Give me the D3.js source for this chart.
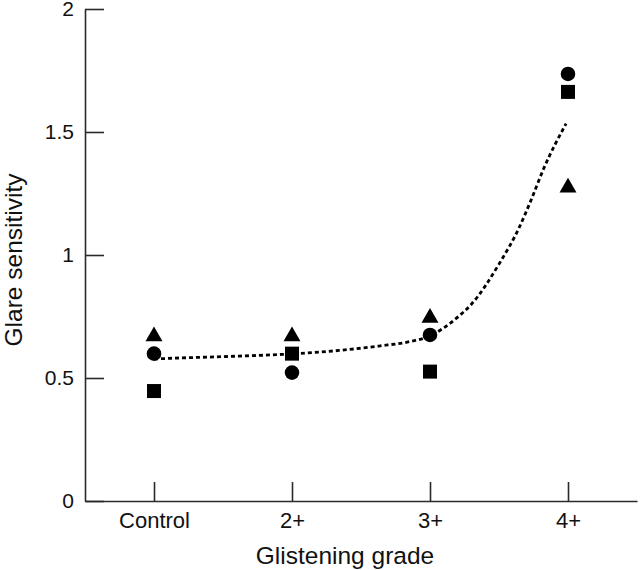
<!DOCTYPE html>
<html>
<head>
<meta charset="utf-8">
<script src="https://cdn.jsdelivr.net/npm/d3@7"></script>
<style>
  html, body { margin: 0; padding: 0; background: #fff; }
  svg { display: block; }
  text { font-family: "Liberation Sans", Arial, Helvetica, sans-serif; fill: #111; }
</style>
</head>
<body>
<svg id="chart" width="640" height="570"></svg>
<script>
// ---- data ----
const categories = ["Control", "2+", "3+", "4+"];
const circleValues   = [0.599, 0.522, 0.675, 1.736];
const squareValues   = [0.447, 0.599, 0.526, 1.663];
const triangleValues = [0.669, 0.669, 0.745, 1.274];
// fitted curve (x in category units)
const fitX = [0, 0.036, 0.616, 0.928, 1.341, 1.63, 1.87, 2.0, 2.087, 2.21, 2.30, 2.5, 2.645, 2.73, 2.826, 2.986];
const fitY = [0.577, 0.578, 0.589, 0.596, 0.612, 0.630, 0.650, 0.671, 0.699, 0.752, 0.80, 0.963, 1.11, 1.22, 1.354, 1.534];
const yTicks = [0, 0.5, 1, 1.5, 2];
const yTickLabels = ["0", "0.5", "1", "1.5", "2"];
const xTitle = "Glistening grade";
const yTitle = "Glare sensitivity";

// ---- layout ----
const svg = d3.select("#chart");
const x = d3.scaleLinear().domain([-0.5, 3.5]).range([85, 637]);
const y = d3.scaleLinear().domain([0, 2]).range([501, 9]);

const axisColor = "#2a2a2a";

// x axis
const gx = svg.append("g")
  .attr("transform", `translate(0,${y(0)})`)
  .call(d3.axisBottom(x)
    .tickValues(categories.map((d, i) => i))
    .tickFormat(i => categories[i])
    .tickSizeInner(-19)
    .tickSizeOuter(0)
    .tickPadding(11));
gx.selectAll("text").style("font-size", "22px");

// y axis
const gy = svg.append("g")
  .attr("transform", `translate(${x(-0.5)},0)`)
  .call(d3.axisLeft(y)
    .tickValues(yTicks)
    .tickFormat((d, i) => yTickLabels[i])
    .tickSizeInner(-19)
    .tickSizeOuter(0)
    .tickPadding(11));
gy.selectAll("text").style("font-size", "21px");

[gx, gy].forEach(g => {
  g.select(".domain").attr("stroke", axisColor).attr("stroke-width", 1.6);
  g.selectAll(".tick line").attr("stroke", axisColor).attr("stroke-width", 1.6);
  g.selectAll("text").attr("fill", "#111");
});

// titles
svg.append("text")
  .attr("x", 345).attr("y", 564)
  .attr("text-anchor", "middle")
  .style("font-size", "24.5px")
  .text(xTitle);

svg.append("text")
  .attr("transform", `translate(22,260) rotate(-90)`)
  .attr("text-anchor", "middle")
  .style("font-size", "24.5px")
  .text(yTitle);

// fitted dotted curve
const fitData = fitX.map((d, i) => [d, fitY[i]]);
svg.append("path")
  .datum(fitData)
  .attr("fill", "none")
  .attr("stroke", "#000")
  .attr("stroke-width", 2.8)
  .attr("stroke-dasharray", "4,3")
  .attr("d", d3.line().x(d => x(d[0])).y(d => y(d[1])).curve(d3.curveMonotoneX));

// markers
const series = [
  { values: triangleValues, symbol: d3.symbolTriangle, size: 125 },
  { values: squareValues,   symbol: d3.symbolSquare,   size: 196 },
  { values: circleValues,   symbol: d3.symbolCircle,   size: 167 }
];
series.forEach(s => {
  svg.append("g").selectAll("path")
    .data(s.values)
    .join("path")
    .attr("transform", (d, i) => `translate(${x(i)},${y(d)})`)
    .attr("d", d3.symbol().type(s.symbol).size(s.size))
    .attr("fill", "#000");
});
</script>
</body>
</html>
